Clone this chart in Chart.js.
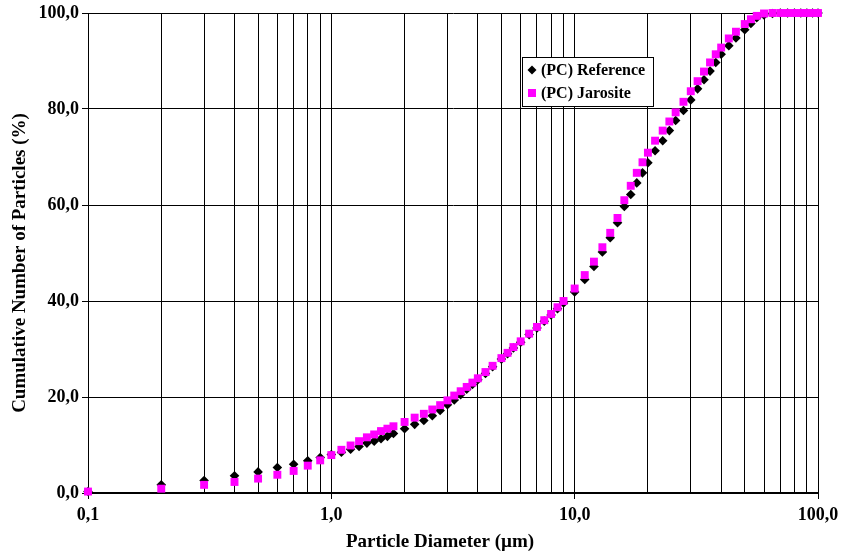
<!DOCTYPE html>
<html>
<head>
<meta charset="utf-8">
<script src="https://cdn.jsdelivr.net/npm/chart.js@4/dist/chart.umd.min.js"></script>
<style>
  body { margin: 0; background: #fff; }
  #wrap { width: 841px; height: 555px; }
</style>
</head>
<body>
<div id="wrap"><canvas id="psdChart" width="841" height="555"></canvas></div>
<script>
// Particle sizes (um)
const diameters = [0.1, 0.2, 0.3, 0.4, 0.5, 0.6, 0.7, 0.8, 0.9, 1.0,
  1.1, 1.2, 1.3, 1.4, 1.5, 1.6, 1.7, 1.8, 2.0, 2.2, 2.4, 2.6, 2.8, 3.0,
  3.2, 3.4, 3.6, 3.8, 4.0, 4.3, 4.6, 5.0, 5.3, 5.6, 6.0, 6.5, 7.0, 7.5,
  8.0, 8.5, 9.0, 10, 11, 12, 13, 14, 15, 16, 17, 18, 19, 20, 21.4, 23,
  24.5, 26, 28, 30, 32, 34, 36, 38, 40, 43, 46, 50, 53, 56, 60, 65, 70,
  75, 80, 85, 90, 95, 100];

// (PC) Reference - cumulative %
const referenceVals = [0.3, 1.7, 2.6, 3.6, 4.4, 5.3, 6.0, 6.7, 7.4, 8.0,
  8.5, 9.1, 9.7, 10.4, 10.8, 11.3, 11.8, 12.4, 13.4, 14.3, 15.1, 16.1, 17.2, 18.4,
  19.4, 20.5, 21.6, 22.6, 23.6, 24.9, 26.3, 27.9, 29.0, 30.2, 31.4, 33.0, 34.4, 35.8,
  37.1, 38.4, 39.6, 41.9, 44.5, 47.2, 50.2, 53.2, 56.3, 59.7, 62.2, 64.6, 66.7, 68.8, 71.3, 73.4,
  75.5, 77.6, 79.7, 81.9, 84.2, 86.1, 87.9, 89.7, 91.4, 93.2, 94.8, 96.5, 97.8, 99.0, 99.6, 99.9, 100,
  100, 100, 100, 100, 100, 100];

// (PC) Jarosite - cumulative %
const jarositeVals = [0.3, 0.9, 1.7, 2.3, 3.0, 3.8, 4.6, 5.7, 6.8, 7.9,
  9.0, 9.9, 10.8, 11.6, 12.2, 12.9, 13.4, 13.9, 14.8, 15.7, 16.5, 17.4, 18.3, 19.3,
  20.3, 21.2, 22.1, 23.0, 23.9, 25.2, 26.5, 28.1, 29.2, 30.4, 31.6, 33.2, 34.6, 36.0,
  37.3, 38.7, 40.0, 42.6, 45.4, 48.2, 51.2, 54.2, 57.3, 61.0, 64.0, 66.7, 68.9, 70.9, 73.4, 75.5,
  77.4, 79.3, 81.5, 83.7, 85.8, 87.8, 89.7, 91.4, 92.8, 94.7, 96.1, 97.7, 98.7, 99.4, 99.9, 100, 100,
  100, 100, 100, 100, 100, 100];

// grid positions on the log axis
const xGrid = [0.1, 0.2, 0.3, 0.4, 0.5, 0.6, 0.7, 0.8, 0.9, 1, 2, 3, 4, 5, 6, 7, 8, 9,
  10, 20, 30, 40, 50, 60, 70, 80, 90, 100];
const xLabelled = [0.1, 1, 10, 100];

const xTitle = 'Particle Diameter (\u00b5m)';
const yTitle = 'Cumulative Number of Particles (%)';

const SERIF = "'Liberation Serif', 'Times New Roman', serif";

function toPoints(xs, ys) {
  return xs.map((x, i) => ({ x: x, y: ys[i] }));
}
function commaNum(v) {
  return Number(v).toFixed(1).replace('.', ',');
}
function isMajor(v) {
  return xLabelled.some(m => Math.abs(m - v) < 1e-9);
}

// axis titles, placed like the original sheet (a bit off the plot centre)
const axisTitles = {
  id: 'axisTitles',
  afterDraw(chart) {
    const ctx = chart.ctx;
    ctx.save();
    ctx.fillStyle = '#000';
    ctx.font = 'bold 19px ' + SERIF;
    ctx.textAlign = 'center';
    ctx.textBaseline = 'middle';
    ctx.fillText(xTitle, 440, 542);
    ctx.translate(20, 263);
    ctx.rotate(-Math.PI / 2);
    ctx.fillText(yTitle, 0, 0);
    ctx.restore();
  }
};

// Legend box drawn inside the plot
const boxLegend = {
  id: 'boxLegend',
  afterDraw(chart) {
    const ctx = chart.ctx;
    const items = [chart.data.datasets[0], chart.data.datasets[1]];
    ctx.save();
    ctx.fillStyle = '#fff';
    ctx.strokeStyle = '#000';
    ctx.lineWidth = 1;
    ctx.fillRect(522.5, 57.5, 131, 49);
    ctx.strokeRect(522.5, 57.5, 131, 49);
    ctx.font = 'bold 16px ' + SERIF;
    ctx.textBaseline = 'middle';
    items.forEach((ds, i) => {
      const y = 70 + i * 23;
      ctx.fillStyle = ds.backgroundColor;
      ctx.beginPath();
      if (ds.pointStyle === 'rectRot') {
        ctx.moveTo(532, y - 4.5); ctx.lineTo(536.5, y); ctx.lineTo(532, y + 4.5); ctx.lineTo(527.5, y);
      } else {
        ctx.rect(528, y - 4, 8, 8);
      }
      ctx.fill();
      ctx.fillStyle = '#000';
      ctx.fillText(ds.label, 541, y + 1);
    });
    ctx.restore();
  }
};

new Chart(document.getElementById('psdChart'), {
  type: 'scatter',
  data: {
    datasets: [
      {
        label: '(PC) Reference',
        data: toPoints(diameters, referenceVals),
        pointStyle: 'rectRot',
        pointRadius: 4.8,
        backgroundColor: '#000000',
        borderColor: '#000000',
        borderWidth: 0,
        order: 1,
        clip: false,
      },
      {
        label: '(PC) Jarosite',
        data: toPoints(diameters, jarositeVals),
        pointStyle: 'rect',
        pointRadius: 5.6,
        backgroundColor: '#FF00FF',
        borderColor: '#FF00FF',
        borderWidth: 0,
        order: 0,
        clip: false,
      },
    ],
  },
  options: {
    responsive: false,
    animation: false,
    events: [],
    layout: {
      padding: { top: 13, right: 23, left: 0, bottom: 0 },
    },
    plugins: {
      legend: { display: false },
      tooltip: { enabled: false },
    },
    scales: {
      x: {
        type: 'logarithmic',
        min: 0.1,
        max: 100,
        afterBuildTicks: (scale) => {
          scale.ticks = xGrid.map(v => ({ value: v, major: isMajor(v) }));
        },
        afterFit: (scale) => {
          scale.height = 62;
          scale.paddingLeft = 0;
          scale.paddingRight = 0;
        },
        grid: {
          color: '#000',
          lineWidth: 1,
          tickLength: 6,
          tickColor: (c) => (c.tick && isMajor(c.tick.value)) ? '#000' : 'rgba(0,0,0,0)',
        },
        border: { color: '#000', width: 2 },
        ticks: {
          autoSkip: false,
          maxRotation: 0,
          padding: 6,
          color: '#000',
          font: { family: SERIF, size: 18, weight: 'bold' },
          callback: (v) => isMajor(v) ? commaNum(v) : '',
        },
        title: { display: false },
      },
      y: {
        min: 0,
        max: 100,
        afterFit: (scale) => {
          scale.width = 88;
          scale.paddingTop = 0;
          scale.paddingBottom = 0;
        },
        grid: {
          color: '#000',
          lineWidth: 1,
          tickLength: 6,
        },
        border: { color: '#000', width: 1 },
        ticks: {
          stepSize: 20,
          padding: 3,
          color: '#000',
          font: { family: SERIF, size: 18, weight: 'bold' },
          callback: (v) => commaNum(v),
        },
        title: { display: false },
      },
    },
  },
  plugins: [boxLegend, axisTitles],
});
</script>
</body>
</html>
